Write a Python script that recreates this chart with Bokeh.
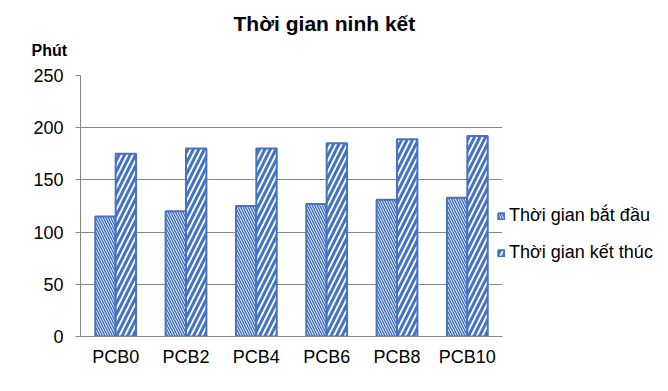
from bokeh.plotting import figure
from bokeh.models import ColumnDataSource, FactorRange, Range1d, Legend, LegendItem, Title, FixedTicker
from bokeh.transform import dodge
from bokeh.embed import file_html
from bokeh.resources import INLINE

categories = ["PCB0", "PCB2", "PCB4", "PCB6", "PCB8", "PCB10"]
start_values = [115, 120, 125, 127, 131, 133]
end_values = [175, 180, 180, 185, 189, 192]
series_names = ["Thời gian bắt đầu", "Thời gian kết thúc"]
y_ticks = [0, 50, 100, 150, 200, 250]
title_text = "Thời gian ninh kết"
unit_text = "Phút"

src = ColumnDataSource(dict(cat=categories, start=start_values, end=end_values))

BLUE = "#4472C4"
GREY = "#868686"
FONT = "Liberation Sans"

p = figure(width=668, height=391, output_backend="svg", toolbar_location=None,
           x_range=FactorRange(*categories, range_padding=0), y_range=Range1d(0, 250),
           min_border_left=80, min_border_right=166, min_border_top=75, min_border_bottom=55,
           frame_width=422, frame_height=261)
p.outline_line_color = None
p.background_fill_color = "white"

r1 = p.vbar(x=dodge("cat", -0.145, range=p.x_range), top="start", width=0.29, source=src,
            fill_color="white", line_color=BLUE, line_width=2,
            hatch_pattern="left_diagonal_line", hatch_color=BLUE, hatch_scale=5, hatch_weight=1.5)
r2 = p.vbar(x=dodge("cat", 0.145, range=p.x_range), top="end", width=0.29, source=src,
            fill_color="white", line_color=BLUE, line_width=2,
            hatch_pattern="right_diagonal_line", hatch_color=BLUE, hatch_scale=11, hatch_weight=3)

p.xgrid.grid_line_color = None
p.ygrid.grid_line_color = GREY
p.ygrid.grid_line_width = 1
p.yaxis.ticker = FixedTicker(ticks=y_ticks)
p.yaxis.minor_tick_line_color = None
p.yaxis.major_tick_out = 5
p.yaxis.major_tick_in = 0
p.yaxis.axis_line_color = GREY
p.yaxis.major_tick_line_color = GREY
p.yaxis.major_label_standoff = 12
p.xaxis.axis_line_color = GREY
p.xaxis.major_tick_line_color = None
p.xaxis.minor_tick_line_color = None
p.xaxis.major_label_standoff = 4
for ax in (p.xaxis, p.yaxis):
    ax.major_label_text_font = FONT
    ax.major_label_text_font_size = "18px"
    ax.major_label_text_color = "black"

legend = Legend(items=[LegendItem(label=series_names[0], renderers=[r1]),
                       LegendItem(label=series_names[1], renderers=[r2])],
                location=(-5, 73), padding=0, margin=0, spacing=16,
                glyph_width=8, glyph_height=8, label_standoff=4,
                label_text_font=FONT, label_text_font_size="18px",
                label_text_color="black", background_fill_alpha=0,
                border_line_color=None)
p.add_layout(legend, "right")

t_unit = Title(text=unit_text, align="left", offset=-49, standoff=34,
               text_font=FONT, text_font_size="16px", text_font_style="bold", text_color="black")
t_main = Title(text=title_text, align="left", offset=153, standoff=-24,
               text_font=FONT, text_font_size="21px", text_font_style="bold", text_color="black")
p.add_layout(t_unit, "above")
p.add_layout(t_main, "above")

open("out.html", "w").write(file_html(p, INLINE))
